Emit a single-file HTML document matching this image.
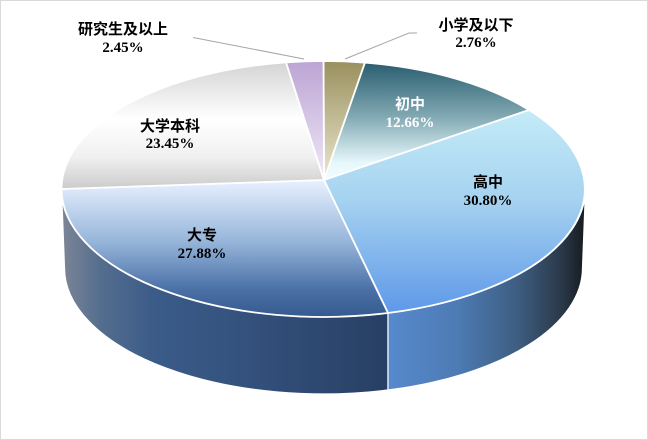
<!DOCTYPE html>
<html>
<head>
<meta charset="utf-8">
<style>
  html,body{margin:0;padding:0;background:#fff;}
  svg{display:block;}
  .cn{font-family:"Liberation Serif","Noto Sans CJK SC",sans-serif;font-size:15px;font-weight:600;fill:#000;}
  .num{font-family:"Liberation Serif","Noto Serif CJK SC",serif;font-size:15px;font-weight:bold;fill:#000;}
</style>
</head>
<body>
<svg width="648" height="440" viewBox="0 0 648 440" xmlns="http://www.w3.org/2000/svg">
  <defs>
    <linearGradient id="gSideL" gradientUnits="userSpaceOnUse" x1="62" y1="0" x2="388" y2="0">
      <stop offset="0" stop-color="#7c8696"/>
      <stop offset="0.12" stop-color="#546d8e"/>
      <stop offset="0.28" stop-color="#3b5b88"/>
      <stop offset="0.55" stop-color="#34527e"/>
      <stop offset="1" stop-color="#283f63"/>
    </linearGradient>
    <linearGradient id="gSideR" gradientUnits="userSpaceOnUse" x1="388" y1="0" x2="586" y2="0">
      <stop offset="0" stop-color="#5689cd"/>
      <stop offset="0.35" stop-color="#4d7bb4"/>
      <stop offset="0.65" stop-color="#3e5e82"/>
      <stop offset="0.88" stop-color="#2a3848"/>
      <stop offset="1" stop-color="#15191d"/>
    </linearGradient>
    <linearGradient id="gPurple" x1="0" y1="0" x2="0" y2="1">
      <stop offset="0" stop-color="#bca4d4"/>
      <stop offset="1" stop-color="#f0e9f7"/>
    </linearGradient>
    <linearGradient id="gTan" x1="0" y1="0" x2="0" y2="1">
      <stop offset="0" stop-color="#9a905e"/>
      <stop offset="1" stop-color="#ebe7d0"/>
    </linearGradient>
    <linearGradient id="gTeal" x1="0" y1="0" x2="0" y2="1">
      <stop offset="0" stop-color="#2a5d6f"/>
      <stop offset="0.45" stop-color="#7fa7b1"/>
      <stop offset="0.85" stop-color="#e6f7fb"/>
      <stop offset="1" stop-color="#f0fdff"/>
    </linearGradient>
    <linearGradient id="gHigh" x1="0" y1="0" x2="0" y2="1">
      <stop offset="0" stop-color="#c4ebf7"/>
      <stop offset="0.45" stop-color="#a5d2f0"/>
      <stop offset="1" stop-color="#5e98e8"/>
    </linearGradient>
    <linearGradient id="gDz" x1="0" y1="0" x2="0" y2="1">
      <stop offset="0" stop-color="#e8f1ff"/>
      <stop offset="0.45" stop-color="#96b5da"/>
      <stop offset="0.8" stop-color="#4a70a7"/>
      <stop offset="1" stop-color="#365a8e"/>
    </linearGradient>
    <linearGradient id="gGrey" x1="0" y1="0" x2="0" y2="1">
      <stop offset="0" stop-color="#d4d4d4"/>
      <stop offset="0.45" stop-color="#ffffff"/>
      <stop offset="0.75" stop-color="#f0f0f0"/>
      <stop offset="1" stop-color="#cbcbcb"/>
    </linearGradient>
  </defs>

  <rect x="0.5" y="0.5" width="647" height="439" fill="#fff" stroke="#d9d9d9" stroke-width="1"/>

  <!-- sides -->
  <path d="M61.5 189 A262 128 0 0 0 388 313 L388 390 A259 126 0 0 1 64.5 268 Z" fill="url(#gSideL)" stroke="#fff" stroke-width="1.2"/>
  <path d="M388 313 A262 128 0 0 0 585.5 189 L582.5 268 A259 126 0 0 1 388 390 Z" fill="url(#gSideR)" stroke="#fff" stroke-width="1.2"/>

  <!-- top faces -->
  <g stroke="#fff" stroke-width="1.8" stroke-linejoin="round">
    <path d="M324 180 L323.5 61 A262 128 0 0 1 365 62.6 Z" fill="url(#gTan)"/>
    <path d="M324 180 L365 62.6 A262 128 0 0 1 529 110 Z" fill="url(#gTeal)"/>
    <path d="M324 180 L529 110 A262 128 0 0 1 388 313 Z" fill="url(#gHigh)"/>
    <path d="M324 180 L388 313 A262 128 0 0 1 61.5 189 Z" fill="url(#gDz)"/>
    <path d="M324 180 L61.5 189 A262 128 0 0 1 286 62.3 Z" fill="url(#gGrey)"/>
    <path d="M324 180 L286 62.3 A262 128 0 0 1 323.5 61 Z" fill="url(#gPurple)"/>
  </g>

  <!-- leader lines -->
  <polyline points="193,37.5 304,59" fill="none" stroke="#a6a6a6" stroke-width="1"/>
  <polyline points="417,33 409,33 345,59" fill="none" stroke="#a6a6a6" stroke-width="1"/>

  <!-- labels -->
  <g text-anchor="middle">
    <text class="cn" x="123" y="34">研究生及以上</text>
    <text class="num" x="123" y="52">2.45%</text>

    <text class="cn" x="476" y="30">小学及以下</text>
    <text class="num" x="476" y="47">2.76%</text>

    <text class="cn" x="410" y="109" style="fill:#fff">初中</text>
    <text class="num" x="410" y="127" style="fill:#fff">12.66%</text>

    <text class="cn" x="170" y="131">大学本科</text>
    <text class="num" x="170" y="148">23.45%</text>

    <text class="cn" x="488" y="187">高中</text>
    <text class="num" x="488" y="205">30.80%</text>

    <text class="cn" x="202" y="240">大专</text>
    <text class="num" x="202" y="258">27.88%</text>
  </g>
</svg>
</body>
</html>
